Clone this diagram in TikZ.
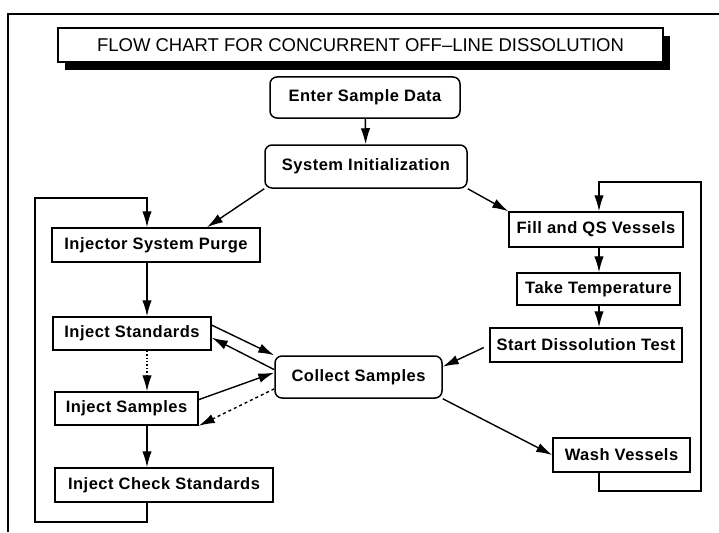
\documentclass[tikz,border=0pt]{standalone}
\usepackage{fontspec}
\setmainfont{Liberation Sans}
\usetikzlibrary{arrows.meta,shadows}

\begin{document}
\begin{tikzpicture}[x=1pt, y=-1pt,
  box/.style={draw, line width=1.5pt, inner sep=0pt, font=\fontsize{16.5}{18}\selectfont\bfseries\addfontfeature{LetterSpace=3}},
  rbox/.style={box, rounded corners=7pt},
  arr/.style={line width=1.4pt, -{Latex[length=16pt,width=9.5pt]}}]
\useasboundingbox (0,0) rectangle (719,532);
\draw[line width=1.3pt] (8,532) -- (8,14) -- (719,14);
\node[draw, line width=1.5pt, fill=white, minimum width=605, minimum height=34, font=\fontsize{18.5}{20}\selectfont,
  drop shadow={shadow xshift=7pt, shadow yshift=-8pt, fill=black, opacity=1}] (title) at (360.5,45) {FLOW CHART FOR CONCURRENT OFF--LINE DISSOLUTION};
\node[rbox, minimum width=190, minimum height=41] (esd) at (365,97.5) {Enter Sample Data};
\node[rbox, minimum width=202, minimum height=43] (sysinit) at (366,166.5) {System Initialization};
\node[box, minimum width=208, minimum height=34] (purge) at (156,245) {Injector System Purge};
\node[box, minimum width=158, minimum height=33] (std) at (132,333.5) {Inject Standards};
\node[box, minimum width=143, minimum height=33] (smp) at (126.5,408.5) {Inject Samples};
\node[box, minimum width=218, minimum height=34] (chk) at (164,485) {Inject Check Standards};
\node[rbox, minimum width=167, minimum height=42] (collect) at (358.5,377) {Collect Samples};
\node[box, minimum width=174, minimum height=35] (fill) at (596,229.5) {Fill and QS Vessels};
\node[box, minimum width=163, minimum height=32] (temp) at (598.5,289) {Take Temperature};
\node[box, minimum width=192, minimum height=34] (start) at (586,345) {Start Dissolution Test};
\node[box, minimum width=137, minimum height=34] (wash) at (621.5,455) {Wash Vessels};
\coordinate (lx) at (147,0);
\coordinate (rx) at (599,0);
\coordinate (pin) at (207,0);
\coordinate (lb) at (35,522);
\coordinate (lt) at (35,198);
\coordinate (rb) at (701,491);
\coordinate (rt) at (701,182);
\draw[arr] (esd) -- (sysinit);
\draw[arr] (sysinit.south west) -- (purge.north -| pin);
\draw[arr] (sysinit.south east) -- (fill.north west);
\draw[arr] (purge.south -| lx) -- (std.north -| lx);
\draw[arr, dotted] (std.south -| lx) -- (smp.north -| lx);
\draw[arr] (smp.south -| lx) -- (chk.north -| lx);
\draw[arr] (chk.south -| lx) |- (lb) -- (lt) -| (purge.north -| lx);
\draw[arr] (fill.south -| rx) -- (temp.north -| rx);
\draw[arr] (temp.south -| rx) -- (start.north -| rx);
\draw[arr] (wash.south -| rx) |- (rb) -- (rt) -| (fill.north -| rx);
\draw[arr, shorten <=6pt] (start.west) -- (collect.7);
\draw[arr] (collect.south east) -- (wash.west);
\draw[arr] (std.6) -- (collect.north west);
\draw[arr] (collect.175) -- (std.-3);
\draw[arr] (smp.7) -- (collect.177);
\draw[arr, dashed] (collect.188) -- (smp.south east);
\end{tikzpicture}
\end{document}
